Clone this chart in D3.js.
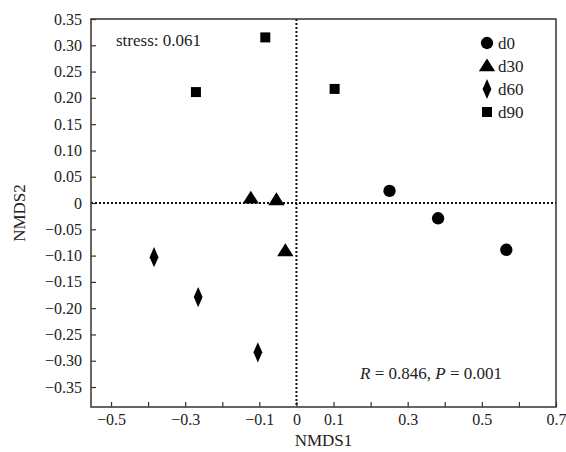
<!DOCTYPE html>
<html>
<head>
<meta charset="utf-8">
<script src="https://cdn.jsdelivr.net/npm/d3@7"></script>
<style>
  body { margin: 0; background: #fff; }
  svg text { font-family: "Liberation Serif", "Times New Roman", Times, "DejaVu Serif", serif; }
</style>
</head>
<body>
<div id="chart"></div>
<script>
// NMDS ordination by sampling day
const groups = ["d0", "d30", "d60", "d90"];
const nmds1 = {
  d0: [0.251, 0.382, 0.566],
  d30: [-0.123, -0.054, -0.030],
  d60: [-0.384, -0.265, -0.104],
  d90: [-0.271, -0.084, 0.103]
};
const nmds2 = {
  d0: [0.023, -0.029, -0.089],
  d30: [0.009, 0.006, -0.091],
  d60: [-0.103, -0.179, -0.284],
  d90: [0.211, 0.315, 0.217]
};
const xTicks = [-0.5, -0.4, -0.3, -0.2, -0.1, 0, 0.1, 0.2, 0.3, 0.4, 0.5, 0.6, 0.7];
const xLabels = [-0.5, -0.3, -0.1, 0, 0.1, 0.3, 0.5, 0.7];
const yTicks = [0.35, 0.30, 0.25, 0.20, 0.15, 0.10, 0.05, 0, -0.05, -0.10, -0.15, -0.20, -0.25, -0.30, -0.35];

const width = 566, height = 452;
const margin = {left: 91, right: 10, top: 19, bottom: 45};
const serif = '"Liberation Serif", "Times New Roman", Times, "DejaVu Serif", serif';

const svg = d3.select("#chart").append("svg")
  .attr("width", width)
  .attr("height", height)
  .attr("font-family", serif);

const x = d3.scaleLinear().domain([-0.554, 0.7]).range([margin.left, width - margin.right]);
const y = d3.scaleLinear().domain([-0.388, 0.35]).range([height - margin.bottom, margin.top]);

// x axis: ticks inward, labels only on some
const xAxis = d3.axisBottom(x)
  .tickValues(xTicks)
  .tickSizeInner(-5)
  .tickSizeOuter(0)
  .tickFormat(d => xLabels.some(v => Math.abs(v - d) < 1e-9) ? (d === 0 ? "0" : (d < 0 ? "\u2212" : "") + Math.abs(d).toFixed(1)) : "");
svg.append("g")
  .attr("transform", `translate(0,${y.range()[0]})`)
  .call(xAxis)
  .attr("font-family", serif)
  .call(g => g.select(".domain").remove())
  .call(g => g.selectAll("line").attr("stroke", "#333").attr("stroke-width", 1.2))
  .call(g => g.selectAll("text").attr("font-size", 16).attr("fill", "#222")
    .style("font-family", serif).attr("y", 7));

// y axis
const yAxis = d3.axisLeft(y)
  .tickValues(yTicks)
  .tickSizeInner(-5)
  .tickSizeOuter(0)
  .tickFormat(d => d === 0 ? "0" : (d < 0 ? "\u2212" : "") + Math.abs(d).toFixed(2));
svg.append("g")
  .attr("transform", `translate(${x.range()[0]},0)`)
  .call(yAxis)
  .attr("font-family", serif)
  .call(g => g.select(".domain").remove())
  .call(g => g.selectAll("line").attr("stroke", "#333").attr("stroke-width", 1.2))
  .call(g => g.selectAll("text").attr("font-size", 16).attr("fill", "#222")
    .style("font-family", serif).attr("x", -9));

// dotted zero lines
svg.append("line")
  .attr("x1", x.range()[0]).attr("x2", x.range()[1])
  .attr("y1", y(0)).attr("y2", y(0))
  .attr("stroke", "#111").attr("stroke-width", 2).attr("stroke-dasharray", "2,2");
svg.append("line")
  .attr("x1", x(0)).attr("x2", x(0))
  .attr("y1", y.range()[1]).attr("y2", y.range()[0])
  .attr("stroke", "#111").attr("stroke-width", 2).attr("stroke-dasharray", "2,2");

// frame
svg.append("rect")
  .attr("x", x.range()[0]).attr("y", y.range()[1])
  .attr("width", x.range()[1] - x.range()[0])
  .attr("height", y.range()[0] - y.range()[1])
  .attr("fill", "none").attr("stroke", "#333").attr("stroke-width", 1.5);

// marker shapes
const shapes = {
  d0: d3.symbol().type(d3.symbolCircle).size(120),
  d30: d3.symbol().type(d3.symbolTriangle).size(95),
  d60: d3.symbol().type(d3.symbolDiamond).size(75),
  d90: d3.symbol().type(d3.symbolSquare).size(100)
};
const shapeScale = {d0: [1, 1], d30: [1.1, 1], d60: [0.95, 1.25], d90: [1, 1]};

const points = groups.flatMap(g => nmds1[g].map((v, i) => ({group: g, x: v, y: nmds2[g][i]})));

svg.append("g").selectAll("path")
  .data(points)
  .join("path")
  .attr("d", d => shapes[d.group]())
  .attr("transform", d => `translate(${x(d.x)},${y(d.y) + (d.group === "d30" ? 1 : 0)}) scale(${shapeScale[d.group][0]},${shapeScale[d.group][1]})`)
  .attr("fill", "#000");

// legend
const legend = svg.append("g").attr("transform", "translate(487,43)");
legend.selectAll("g")
  .data(groups)
  .join("g")
  .attr("transform", (d, i) => `translate(0,${i * 23})`)
  .call(g => g.append("path")
    .attr("d", d => shapes[d]())
    .attr("transform", d => `translate(0,${d === "d30" ? 1 : 0}) scale(${shapeScale[d][0]},${shapeScale[d][1]})`)
    .attr("fill", "#000"))
  .call(g => g.append("text")
    .attr("x", 11).attr("y", 6)
    .attr("font-size", 17).attr("fill", "#222")
    .text(d => d));

// annotations
svg.append("text")
  .attr("x", 116).attr("y", 46)
  .attr("font-size", 17).attr("fill", "#222")
  .text("stress: 0.061");

const stat = svg.append("text")
  .attr("x", 360).attr("y", 379)
  .attr("font-size", 17).attr("fill", "#222");
stat.append("tspan").attr("font-style", "italic").text("R");
stat.append("tspan").text(" = 0.846, ");
stat.append("tspan").attr("font-style", "italic").text("P");
stat.append("tspan").text(" = 0.001");

// axis titles
svg.append("text")
  .attr("x", (x.range()[0] + x.range()[1]) / 2).attr("y", 446)
  .attr("text-anchor", "middle")
  .attr("font-size", 17).attr("fill", "#222")
  .text("NMDS1");
svg.append("text")
  .attr("transform", `translate(25,${(y.range()[0] + y.range()[1]) / 2}) rotate(-90)`)
  .attr("text-anchor", "middle")
  .attr("font-size", 17).attr("fill", "#222")
  .text("NMDS2");
</script>
</body>
</html>
